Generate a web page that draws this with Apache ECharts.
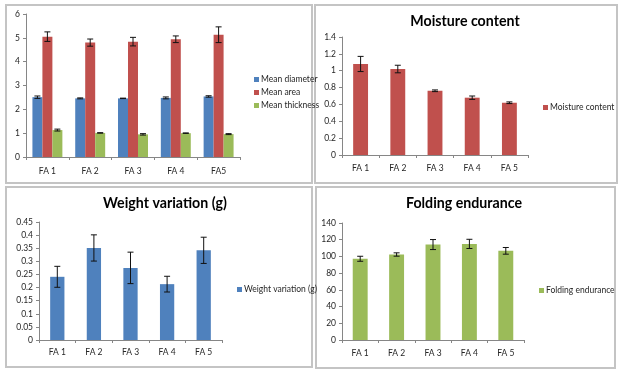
<!DOCTYPE html>
<html><head><meta charset="utf-8">
<script src="https://cdn.jsdelivr.net/npm/echarts@6/dist/echarts.min.js"></script>
<style>html,body{margin:0;padding:0;background:#fff}#c{width:620px;height:374px}</style>
</head><body><div id="c"></div>
<script>
// ---- data ----
var categories1 = ['FA 1', 'FA 2', 'FA 3', 'FA 4', 'FA5'];
var categories = ['FA 1', 'FA 2', 'FA 3', 'FA 4', 'FA 5'];

var meanDiameter = [2.51, 2.46, 2.46, 2.48, 2.54];
var meanDiameterErr = [0.05, 0.02, 0.01, 0.04, 0.03];
var meanArea = [5.05, 4.80, 4.84, 4.94, 5.13];
var meanAreaErr = [0.20, 0.15, 0.18, 0.14, 0.33];
var meanThickness = [1.13, 1.01, 0.95, 1.00, 0.96];
var meanThicknessErr = [0.04, 0.01, 0.03, 0.01, 0.02];

var moisture = [1.08, 1.02, 0.762, 0.68, 0.62];
var moistureErr = [0.09, 0.045, 0.01, 0.02, 0.01];

var weightVar = [0.241, 0.351, 0.275, 0.213, 0.342];
var weightVarErr = [0.04, 0.05, 0.06, 0.03, 0.05];

var folding = [97.2, 102.3, 114.2, 115.0, 106.7];
var foldingErr = [3, 2, 6, 5.5, 4];

var yTicks1 = {max: 6, interval: 1};
var yTicks2 = {max: 1.4, interval: 0.2};
var yTicks3 = {max: 0.45, interval: 0.05};
var yTicks4 = {max: 140, interval: 20};

// ---- styling ----
var BLUE = '#4F81BD', RED = '#C0504D', GREEN = '#9BBB59';
var FONT = 'Lato';
var txt = '#262626';

function errData(vals, errs) {
  return vals.map(function (v, i) { return [i, v, errs[i]]; });
}
function errSeries(gi, vals, errs, offsetFrac) {
  return {
    type: 'custom', xAxisIndex: gi, yAxisIndex: gi, z: 10, silent: true,
    encode: {x: 0, y: 1},
    data: errData(vals, errs),
    renderItem: function (params, api) {
      var x = api.value(0), y = api.value(1), e = api.value(2);
      var band = api.size([1, 0])[0];
      var p = api.coord([x, y]);
      var cx = p[0] + offsetFrac * band;
      var hi = api.coord([x, y + e])[1];
      var lo = api.coord([x, y - e])[1];
      var s = {stroke: '#111', lineWidth: 1};
      var c = 3;
      return {type: 'group', children: [
        {type: 'line', shape: {x1: cx, y1: hi, x2: cx, y2: lo}, style: s},
        {type: 'line', shape: {x1: cx - c, y1: hi, x2: cx + c, y2: hi}, style: s},
        {type: 'line', shape: {x1: cx - c, y1: lo, x2: cx + c, y2: lo}, style: s}
      ]};
    }
  };
}
function xAx(gi, cats, labelMargin) {
  return {
    type: 'category', gridIndex: gi, data: cats,
    axisLine: {lineStyle: {color: '#868686', width: 1}},
    axisTick: {show: true, length: 3, lineStyle: {color: '#868686'}},
    axisLabel: {color: txt, fontSize: 8.5, fontFamily: FONT, margin: labelMargin}
  };
}
function yAx(gi, t) {
  return {
    type: 'value', gridIndex: gi, min: 0, max: t.max, interval: t.interval,
    axisLine: {show: true, lineStyle: {color: '#868686', width: 1}},
    axisTick: {show: true, length: 3, lineStyle: {color: '#868686'}},
    splitLine: {show: false},
    axisLabel: {color: txt, fontSize: 8.5, fontFamily: FONT, margin: 6}
  };
}
function legend(names, left, top) {
  return {
    data: names, left: left, top: top, orient: 'vertical', padding: 0,
    icon: 'rect', itemWidth: 5, itemHeight: 5, itemGap: 4,
    selectedMode: false,
    textStyle: {color: txt, fontSize: 8.5, fontFamily: FONT, padding: [0, 0, 0, -3]}
  };
}
function panel(x, y, w, h) {
  return {type: 'rect', shape: {x: x, y: y, width: w, height: h},
    style: {fill: 'none', stroke: '#C4C4C4', lineWidth: 2}, silent: true, z: -1};
}
function title(text, cx, cy) {
  return {type: 'text', x: cx, y: cy,
    style: {text: text, fill: '#000', font: 'bold 14.2px Lato', textAlign: 'center', textVerticalAlign: 'middle'}};
}

var chart = echarts.init(document.getElementById('c'), null, {renderer: 'canvas'});
var bw = 0.7 / 3;
chart.setOption({
  animation: false,
  backgroundColor: '#fff',
  graphic: [
    panel(6, 5, 306, 178),
    panel(315, 5, 302, 178),
    panel(6, 187, 306, 180),
    panel(316, 187, 299, 181),
    title('Moisture content', 465, 21),
    title('Weight variation (g)', 165, 203),
    title('Folding endurance', 464, 203)
  ],
  grid: [
    {left: 26, top: 14, width: 214, height: 143},
    {left: 342, top: 37, width: 186, height: 118},
    {left: 39, top: 222, width: 183, height: 118},
    {left: 342, top: 223, width: 182, height: 117}
  ],
  xAxis: [xAx(0, categories1, 10), xAx(1, categories, 9), xAx(2, categories, 8), xAx(3, categories, 9)],
  yAxis: [yAx(0, yTicks1), yAx(1, yTicks2), yAx(2, yTicks3), yAx(3, yTicks4)],
  legend: [
    legend(['Mean diameter', 'Mean area', 'Mean thickness'], 254, 75),
    legend(['Moisture content'], 543, 103),
    legend(['Weight variation (g)'], 237, 285),
    legend(['Folding endurance'], 539, 286)
  ],
  series: [
    {name: 'Mean diameter', type: 'bar', xAxisIndex: 0, yAxisIndex: 0, data: meanDiameter,
     itemStyle: {color: BLUE}, barGap: '0%', barCategoryGap: '30%'},
    {name: 'Mean area', type: 'bar', xAxisIndex: 0, yAxisIndex: 0, data: meanArea,
     itemStyle: {color: RED}, barGap: '0%', barCategoryGap: '30%'},
    {name: 'Mean thickness', type: 'bar', xAxisIndex: 0, yAxisIndex: 0, data: meanThickness,
     itemStyle: {color: GREEN}, barGap: '0%', barCategoryGap: '30%'},
    errSeries(0, meanDiameter, meanDiameterErr, -bw),
    errSeries(0, meanArea, meanAreaErr, 0),
    errSeries(0, meanThickness, meanThicknessErr, bw),

    {name: 'Moisture content', type: 'bar', xAxisIndex: 1, yAxisIndex: 1, data: moisture,
     itemStyle: {color: RED}, barCategoryGap: '60%'},
    errSeries(1, moisture, moistureErr, 0),

    {name: 'Weight variation (g)', type: 'bar', xAxisIndex: 2, yAxisIndex: 2, data: weightVar,
     itemStyle: {color: BLUE}, barCategoryGap: '61%'},
    errSeries(2, weightVar, weightVarErr, 0),

    {name: 'Folding endurance', type: 'bar', xAxisIndex: 3, yAxisIndex: 3, data: folding,
     itemStyle: {color: GREEN}, barCategoryGap: '59%'},
    errSeries(3, folding, foldingErr, 0)
  ]
});
</script></body></html>
